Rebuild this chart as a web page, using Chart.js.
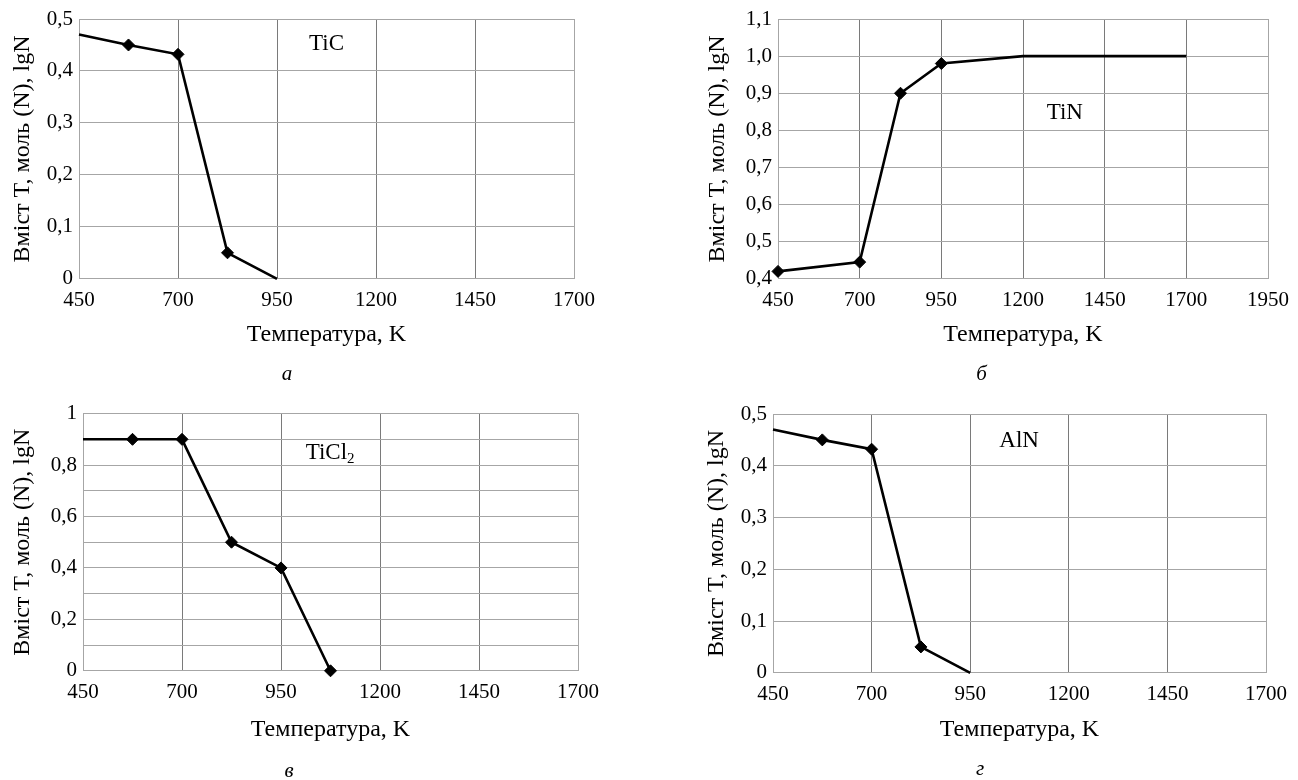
<!DOCTYPE html>
<html>
<head>
<meta charset="utf-8">
<script src="https://cdn.jsdelivr.net/npm/chart.js@4"></script>
<style>
  body { margin: 0; background: #fff; overflow: hidden; }
  canvas { position: absolute; }
</style>
</head>
<body>
<canvas id="chartA"></canvas>
<canvas id="chartB"></canvas>
<canvas id="chartC"></canvas>
<canvas id="chartD"></canvas>
<script>
// data
var tempTiC = [450, 575, 700, 825, 950];
var valTiC = [0.47, 0.45, 0.432, 0.05, 0];
var tempTiN = [450, 700, 825, 950, 1200, 1700];
var valTiN = [0.42, 0.445, 0.9, 0.98, 1.0, 1.0];
var tempTiCl2 = [450, 575, 700, 825, 950, 1075];
var valTiCl2 = [0.9, 0.9, 0.9, 0.5, 0.4, 0];
var tempAlN = [450, 575, 700, 825, 950];
var valAlN = [0.47, 0.45, 0.432, 0.05, 0];

var xTicks = [450, 700, 950, 1200, 1450, 1700];
var xTicksTiN = [450, 700, 950, 1200, 1450, 1700, 1950];
var yTicksHalf = [0, 0.1, 0.2, 0.3, 0.4, 0.5];
var yTicksTiN = [0.4, 0.5, 0.6, 0.7, 0.8, 0.9, 1.0, 1.1];
var yTicksTiCl2 = [0, 0.1, 0.2, 0.3, 0.4, 0.5, 0.6, 0.7, 0.8, 0.9, 1];

var xTitle = "Температура, K";
var yTitle = "Вміст T, моль (N), lgN";

Chart.defaults.font.family = "'Liberation Serif', 'Times New Roman', serif";
Chart.defaults.color = "#000";

function fmtComma(v) {
  if (v === 0) return "0";
  return v.toFixed(1).replace(".", ",");
}
function fmtEven(v) {
  var k = Math.round(v * 10);
  if (k % 2 != 0) return "";
  if (k == 0) return "0";
  if (k == 10) return "1";
  return (k / 10).toFixed(1).replace(".", ",");
}

var inLabel = {
  id: "inLabel",
  afterDatasetsDraw: function(chart, args, opts) {
    var ctx = chart.ctx;
    var x = chart.scales.x.getPixelForValue(opts.x);
    var y = chart.scales.y.getPixelForValue(opts.y);
    ctx.save();
    ctx.fillStyle = "#000";
    ctx.textBaseline = "middle";
    ctx.textAlign = "left";
    ctx.font = "23px 'Liberation Serif'";
    var w = ctx.measureText(opts.text).width;
    var w2 = 0;
    if (opts.sub) {
      ctx.font = "15px 'Liberation Serif'";
      w2 = ctx.measureText(opts.sub).width;
    }
    var x0 = x - (w + w2) / 2;
    ctx.font = "23px 'Liberation Serif'";
    ctx.fillText(opts.text, x0, y);
    if (opts.sub) {
      ctx.font = "15px 'Liberation Serif'";
      ctx.fillText(opts.sub, x0 + w, y + 6);
    }
    ctx.restore();
  }
};

function makeChart(id, g) {
  var cv = document.getElementById(id);
  var xAxisH = g.xAxisH, subH = g.subPad + 24;
  var h = (g.plot.b - g.top) + xAxisH + subH;
  cv.width = g.width; cv.height = h;
  cv.style.left = g.left + "px"; cv.style.top = g.top + "px";
  var xMax = g.xTicks[g.xTicks.length - 1];
  var yMax = g.yTicks[g.yTicks.length - 1];

  return new Chart(cv, {
    type: "line",
    data: {
      labels: g.temps,
      datasets: [{
        data: g.temps.map(function(t, i) { return {x: t, y: g.vals[i]}; }),
        borderColor: "#000",
        backgroundColor: "#000",
        borderWidth: 2.6,
        pointStyle: "rectRot",
        pointRadius: g.marks,
        pointBorderWidth: 1,
        tension: 0,
        clip: 8
      }]
    },
    options: {
      responsive: false,
      animation: false,
      events: [],
      layout: { padding: { top: g.plot.t - g.top, left: 0, right: g.left + g.width - g.plot.r, bottom: 0 } },
      plugins: {
        legend: { display: false },
        tooltip: { enabled: false },
        subtitle: {
          display: true, position: "bottom", text: g.letter,
          font: { size: 21, style: "italic" }, color: "#000",
          padding: { top: g.subPad, bottom: 0 }
        },
        inLabel: g.label
      },
      scales: {
        x: {
          type: "linear", min: g.xTicks[0], max: xMax,
          afterBuildTicks: function(s) { s.ticks = g.xTicks.map(function(v) { return {value: v}; }); },
          afterFit: function(s) { s.height = xAxisH; },
          ticks: { font: { size: 21 }, padding: 9, maxRotation: 0, autoSkip: false, color: "#000",
                   callback: function(v) { return String(v); } },
          grid: {
            drawTicks: false,
            color: function(c) { return c.tick && c.tick.value == xMax ? "#a6a6a6" : "#7a7a7a"; },
            lineWidth: 1
          },
          border: { color: "#a6a6a6", width: 1 },
          title: { display: true, text: xTitle, font: { size: 24 }, padding: { top: 0, bottom: 0 }, color: "#000" }
        },
        y: {
          type: "linear", min: g.yTicks[0], max: yMax,
          afterBuildTicks: function(s) { s.ticks = g.yTicks.map(function(v) { return {value: v}; }); },
          afterFit: function(s) { s.width = g.plot.l - g.left; },
          ticks: { font: { size: 21 }, padding: 6, autoSkip: false, color: "#000", callback: g.fmt },
          grid: { drawTicks: false, color: "#a6a6a6", lineWidth: 1 },
          border: { color: "#a6a6a6", width: 1 },
          title: { display: true, text: yTitle, font: { size: 24 }, padding: { top: 8, bottom: 0 }, color: "#000" }
        }
      }
    },
    plugins: [inLabel]
  });
}

makeChart("chartA", {
  left: 0, top: 0, width: 640, plot: { l: 79, t: 19, r: 574, b: 280 }, xAxisH: 70, subPad: 13,
  temps: tempTiC, vals: valTiC, marks: [0, 6, 6, 6, 0],
  xTicks: xTicks, yTicks: yTicksHalf, fmt: fmtComma, letter: "а",
  label: { text: "TiC", x: 1075, y: 0.452 }
});

makeChart("chartB", {
  left: 695, top: 0, width: 603, plot: { l: 778, t: 19, r: 1268, b: 280 }, xAxisH: 70, subPad: 13,
  temps: tempTiN, vals: valTiN, marks: [6, 6, 6, 6, 0, 0],
  xTicks: xTicksTiN, yTicks: yTicksTiN, fmt: fmtComma, letter: "б",
  label: { text: "TiN", x: 1328, y: 0.848 }
});

makeChart("chartC", {
  left: 0, top: 395, width: 640, plot: { l: 83, t: 413, r: 578, b: 672 }, xAxisH: 73, subPad: 15,
  temps: tempTiCl2, vals: valTiCl2, marks: [0, 6, 6, 6, 6, 6],
  xTicks: xTicks, yTicks: yTicksTiCl2, fmt: fmtEven, letter: "в",
  label: { text: "TiCl", sub: "2", x: 1074, y: 0.846 }
});

makeChart("chartD", {
  left: 694, top: 395, width: 604, plot: { l: 773, t: 414, r: 1266, b: 674 }, xAxisH: 71, subPad: 13,
  temps: tempAlN, vals: valAlN, marks: [0, 6, 6, 6, 0],
  xTicks: xTicks, yTicks: yTicksHalf, fmt: fmtComma, letter: "г",
  label: { text: "AlN", x: 1074, y: 0.448 }
});
</script>
</body>
</html>
